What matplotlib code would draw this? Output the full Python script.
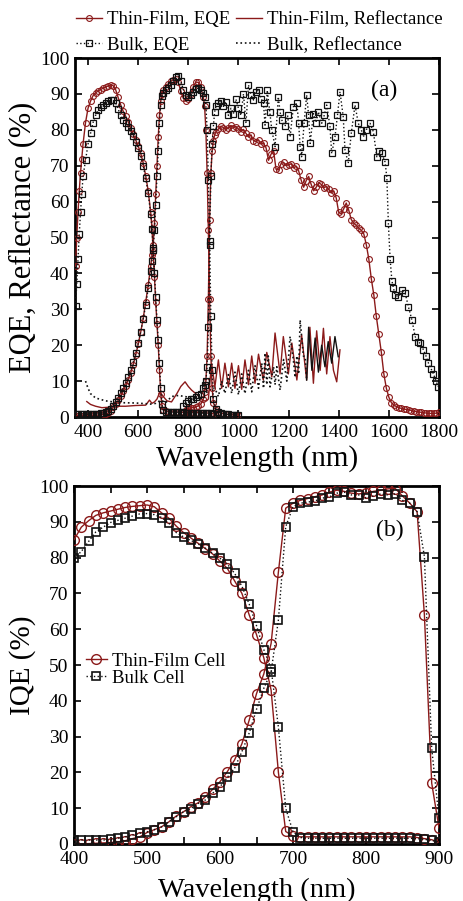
import matplotlib
matplotlib.use('Agg')
import matplotlib.pyplot as plt
from matplotlib.lines import Line2D

plt.rcParams['font.family'] = ['Liberation Serif', 'DejaVu Serif']

RED = '#8b1a1a'
BLK = '#111111'

# ---------------- Panel (a): EQE and reflectance ----------------
top_wl = [350, 355, 360, 365, 370, 375, 380] + list(range(390, 651, 10)) + \
         [655, 660, 665, 670, 675, 680, 685, 690, 695, 700] + list(range(710, 901, 10))
tf_top_eqe = [42, 50, 57, 63, 68, 72, 76,
              82, 86, 88, 89.5, 90.3, 90.8, 91.2, 91.6, 91.9, 92.2, 92.5, 92.3, 91.2, 89, 87,
              85.2, 83.8, 82.3, 80.5, 78.8, 77.2, 75.5, 73.5, 70.8, 67.2, 63, 57,
              52.5, 46, 39, 32, 26, 20, 13, 6.5, 3, 2,
              1.6, 1.5, 1.5, 1.4, 1.4, 1.4, 1.3, 1.3, 1.3, 1.3, 1.3, 1.2, 1.2, 1.2, 1.2, 1.2,
              1.1, 1.1, 1.0, 0.9]
bk_top_eqe = [31, 37, 44, 51, 57, 62, 67,
              71.5, 76, 79, 82, 84, 85.5, 86.3, 87, 87.6, 88, 88.3, 88.3, 87.5, 85.8, 84,
              82.8, 81.8, 80.8, 79.7, 78.3, 76.7, 74.8, 72.6, 70, 66.5, 62.3, 56.5,
              52.5, 46.5, 40, 33.5, 27, 21.5, 15, 8, 3.5, 2,
              1.5, 1.4, 1.4, 1.3, 1.3, 1.3, 1.3, 1.2, 1.2, 1.2, 1.2, 1.2, 1.2, 1.1, 1.1, 1.1,
              1.1, 1.0, 1.0, 0.8]

mid_wl = list(range(350, 651, 10)) + [655, 660, 665, 670, 675, 680, 685, 690, 695, 700] + \
         list(range(710, 861, 10)) + [865, 870, 875, 880, 885, 890, 895, 900] + \
         list(range(910, 1001, 10))
tf_mid_eqe = [0.4, 0.4, 0.4, 0.4, 0.4, 0.4, 0.4, 0.5, 0.5, 0.5, 0.6, 0.7, 0.8, 1.0,
              1.8, 2.7, 3.6, 4.6, 5.8, 7.2, 8.7, 10.3, 12.2, 14.5, 17.2, 20.2, 23.6, 27.5,
              32, 36.8, 42,
              45, 48, 54, 62, 70, 78, 84, 88, 90, 91,
              92, 92.8, 93.5, 94, 94.2, 93.2, 90.8, 88.8, 88, 88.5, 90, 92, 93.3, 93.2,
              91.8, 89,
              86.5, 80, 68, 52, 33, 17, 8, 4,
              2, 1.4, 1.1, 0.9, 0.8, 0.7, 0.6, 0.6, 0.5, 0.5]
bk_mid_eqe = [0.8, 0.8, 0.8, 0.8, 0.8, 0.8, 0.8, 0.8, 0.9, 0.9, 1.0, 1.1, 1.3, 1.6,
              2.3, 3.2, 4.2, 5.3, 6.6, 8, 9.5, 11.2, 13, 15.2, 17.8, 20.6, 23.8, 27.2,
              31.2, 35.8, 40.6,
              43.5, 47, 52, 59, 67, 74, 82, 87, 89.5, 90.3,
              91, 91.6, 92.5, 93.6, 94.6, 95, 93.6, 91.2, 89.6, 89.2, 89.6, 90.6, 91.5,
              91.6, 91.2, 90.3,
              89.2, 87, 80, 66, 49, 28, 13, 5,
              2.2, 1.3, 1.0, 0.9, 0.8, 0.7, 0.6, 0.6, 0.5, 0.5]

tf_bot_wl = list(range(780, 861, 10)) + [865, 870, 875, 880, 885, 890, 895, 900, 905, 910] + \
            list(range(920, 1801, 10))
tf_bot_eqe = [1.5, 2, 2.4, 2.6, 2.6, 2.8, 3.1, 3.6, 5,
              7, 10, 17, 33, 55, 68, 74, 77, 78.5, 79.5,
              80.2, 81, 80.6, 80, 80.6, 81.2, 80.6, 80.9, 80.2,
              79.5, 80.1, 79, 78, 78.6, 77, 76.7, 77.2, 76, 76.2,
              75, 71.5, 73.2, 74.2, 69, 68.8, 70.6, 70.9, 70, 70.3,
              70.5, 69.4, 69.8, 68.6, 66, 64, 65.8, 67, 64.8, 63,
              64, 65.3, 64.8, 63.8, 64.2, 63.5, 62.4, 63, 61, 57,
              56.6, 58, 59.6, 57.6, 55, 54, 53.4, 52.6, 52, 51,
              48, 44, 38.5, 34, 28, 23, 18, 12, 8, 5.5,
              4, 3.3, 2.9, 2.6, 2.4, 2.2, 2.1, 2, 1.8, 1.6,
              1.5, 1.4, 1.3, 1.2, 1.1, 1, 1, 1, 1.1, 1.3]

bk_bot_wl = [780, 790, 800, 810, 820, 830, 840, 850, 860,
             865, 870, 875, 880, 885, 890, 895, 900, 905, 910,
             920, 930, 940, 950, 960, 970, 980, 990, 1000,
             1010, 1020, 1030, 1040, 1050, 1060, 1070, 1080, 1090, 1100,
             1106, 1115, 1125, 1133, 1146, 1159, 1166, 1173, 1186, 1196,
             1206, 1219, 1233, 1240, 1246, 1252, 1262, 1272, 1280, 1286,
             1299, 1309, 1319, 1332, 1342, 1352, 1365, 1372, 1385, 1395,
             1405, 1418, 1425, 1438, 1450, 1465, 1478, 1490, 1498, 1510,
             1525, 1538, 1552, 1562, 1572, 1585, 1592, 1598, 1605, 1612,
             1618, 1625, 1638, 1652, 1665, 1678, 1692, 1705, 1715, 1725,
             1738, 1748, 1758, 1768, 1778, 1788, 1798]
bk_bot_eqe = [3, 4, 4.5, 5, 5, 5.5, 6, 6.5, 8,
              9, 10, 14, 25, 48, 67, 76, 81, 85, 86.5,
              87.5, 88, 86.5, 87.8, 84, 86, 84.5, 88.5, 86,
              84, 90, 81.8, 92.5, 89.7, 88.3, 90.6, 91, 88.7, 87.4,
              81.3, 91, 85, 80, 75.3, 89.2, 85, 82.7, 81, 84,
              78, 86.4, 87.4, 82, 75.3, 72.5, 82, 89.7, 84, 76.2,
              84.5, 82, 85, 81.8, 84, 86.9, 81, 73.4, 78, 84,
              90.6, 83.6, 74.4, 70.7, 79, 86.9, 81.8, 80, 78, 80,
              81.8, 79.5, 72.5, 74, 73.4, 71, 66.6, 54, 44, 38,
              36, 34, 33.5, 35.4, 34.5, 30.7, 27, 22.4, 21, 20.5,
              18.7, 17, 15, 13.5, 12, 10, 8.4]

tf_refl_wl = [395, 410, 430, 455, 480, 510, 550, 590, 630, 645, 655, 665, 675, 687, 700,
              715, 733, 755, 770, 787, 800, 813, 830, 847, 860, 873, 880,
              893, 906, 920, 933, 946, 960, 973, 986, 1000, 1013, 1026, 1040, 1053, 1066,
              1080, 1099, 1113, 1133, 1146, 1166, 1179, 1199, 1213, 1233, 1252, 1272,
              1285, 1299, 1312, 1326, 1339, 1352, 1365, 1379, 1392, 1405]
tf_refl = [4.3, 3.5, 3, 2.6, 2.7, 3, 3, 3.2, 3.3, 4.7, 3.8, 4.2, 5, 7, 5.7,
           4.5, 4.2, 6.6, 8.5, 9.8, 8.5, 7.5, 6.5, 5.5, 4.5, 4.5, 5,
           15, 8.4, 15.9, 8, 15, 8.4, 15, 8, 14.3, 7.7, 15.9, 9, 17, 9.4,
           17.5, 10.3, 18, 11.2, 23.4, 12, 22.4, 12, 20.6, 10.3, 22.8, 10.3,
           25, 9.4, 24, 13, 24.7, 12, 22.4, 13, 9.8, 18.7]

bk_refl_wl = [390, 400, 410, 430, 470, 520, 590, 650, 670, 690, 710, 733, 760, 787, 813,
              853, 880, 893, 906, 920, 933, 946, 960, 973, 986, 1000, 1013, 1026, 1040,
              1053, 1066, 1080, 1093, 1100, 1106, 1113, 1119, 1126, 1140, 1146, 1153,
              1166, 1180, 1193, 1206, 1219, 1226, 1233, 1240, 1246, 1259, 1266, 1272,
              1280, 1293, 1306, 1319, 1332, 1345, 1358, 1372, 1385, 1398]
bk_refl = [10, 8, 6.5, 5.3, 4.5, 4, 3.9, 3.6, 3.8, 4.7, 4, 5.7, 6, 5.7, 5.3,
           6.6, 7, 8, 8, 5.7, 10, 6.6, 11.8, 6.6, 12.5, 6.2, 12, 6.5, 13,
           7, 14.3, 8, 15, 8, 17.8, 9, 17, 8.4, 14, 9, 14,
           7.5, 16, 10, 22.4, 16, 11, 17, 12, 27, 17, 16.8, 10.3,
           25, 13, 22, 12.5, 20, 14, 21, 15, 22.4, 16.8]
solid_from = 1272  # bulk reflectance drawn solid beyond this wavelength

# ---------------- Panel (b): IQE ----------------
iqe_wl = list(range(400, 901, 10))
tf_top_iqe = [85, 88.5, 90.3, 91.8, 92.5, 93, 93.5, 94, 94.3, 94.5,
              94.7, 94.2, 92.5, 91, 88.8, 87, 85.5, 84, 82.5, 81,
              79, 77, 73.5, 70, 64, 58.5, 52, 43, 20, 3.5,
              2.2, 2, 2, 2, 2, 2, 2, 2, 2, 2,
              2, 2, 2, 2, 2, 2, 2, 1.8, 1.5, 1.2,
              0.5]
bk_top_iqe = [79.8, 81.7, 84.5, 87.2, 88.5, 89.8, 90.4, 91, 91.6, 92.2,
              92.3, 92, 91.2, 89.6, 87, 85.8, 84.8, 83.8, 82.6, 81.2,
              79.8, 78.2, 75.6, 72, 67, 61, 54.3, 49, 32.6, 10,
              3.4, 1.8, 1.6, 1.6, 1.6, 1.6, 1.6, 1.6, 1.6, 1.6,
              1.6, 1.6, 1.6, 1.6, 1.6, 1.6, 1.6, 1.5, 1.3, 1,
              0.5]
tf_mid_iqe = [0, 0, 0.1, 0.2, 0.3, 0.4, 0.6, 0.9, 1.5, 2,
              3.2, 4, 4.8, 6.2, 7.8, 9, 10.4, 11.5, 13.2, 15.3,
              17.4, 20.2, 23.5, 28, 34.6, 42, 47.5, 56, 76, 93.8,
              95.2, 96, 96.5, 97, 97.5, 98.3, 98.8, 98.5, 98, 97.8,
              98, 98.5, 98.8, 99.2, 99.3, 97.2, 95.2, 92.8, 64, 17,
              4.5]
bk_mid_iqe = [1.1, 1.1, 1.1, 1.1, 1.1, 1.3, 1.6, 2, 2.5, 3,
              3.4, 4, 4.8, 6.2, 7.6, 9, 9.9, 11.3, 12.3, 14.2,
              16, 18.6, 21.2, 25.8, 31, 37.6, 43.5, 48, 62.6, 88.6,
              94.2, 95.2, 95.5, 95.8, 96.6, 97, 98, 98.3, 97.5, 97.5,
              96.7, 97.2, 97.8, 97.5, 97.8, 96, 95.2, 92.8, 80.3, 26.7,
              7.2]

# ---------------- Figure ----------------
fig = plt.figure(figsize=(4.64, 9.01), dpi=100)
axA = fig.add_axes([75 / 464, 1 - 417 / 901, 364 / 464, 359 / 901])
axB = fig.add_axes([74 / 464, 1 - 844 / 901, 365 / 464, 358 / 901])

ms_a = 4.2
tf_style_a = dict(color=RED, lw=1.0, ls='-', marker='o', ms=ms_a, mfc='none', mec=RED, mew=0.8)
bk_style_a = dict(color=BLK, lw=1.0, ls=':', marker='s', ms=ms_a, mfc='none', mec=BLK, mew=0.9)

# reflectance
axA.plot(tf_refl_wl, tf_refl, color=RED, lw=1.0, ls='-', zorder=2)
bw_d = [w for w in bk_refl_wl if w <= solid_from]
bv_d = bk_refl[:len(bw_d)]
axA.plot(bw_d, bv_d, color=BLK, lw=1.2, ls=':', zorder=2)
axA.plot(bk_refl_wl[len(bw_d) - 1:], bk_refl[len(bw_d) - 1:], color=BLK, lw=1.0, ls='-', zorder=2)

# EQE
for wl, v in [(top_wl, tf_top_eqe), (mid_wl, tf_mid_eqe), (tf_bot_wl, tf_bot_eqe)]:
    axA.plot(wl, v, zorder=3, **tf_style_a)
for wl, v in [(top_wl, bk_top_eqe), (mid_wl, bk_mid_eqe), (bk_bot_wl, bk_bot_eqe)]:
    axA.plot(wl, v, zorder=4, **bk_style_a)

axA.set_xlim(348, 1800)
axA.set_ylim(0, 100)
axA.set_xticks(range(400, 1801, 200))
axA.set_yticks(range(0, 101, 10))
axA.set_xlabel('Wavelength (nm)', fontsize=21, labelpad=3)
axA.set_ylabel('EQE, Reflectance (%)', fontsize=22, labelpad=2)
axA.text(0.849, 0.91, '(a)', transform=axA.transAxes, fontsize=17, ha='center', va='center')

handles = [
    Line2D([], [], **tf_style_a),
    Line2D([], [], **bk_style_a),
    Line2D([], [], color=RED, lw=1.0, ls='-'),
    Line2D([], [], color=BLK, lw=1.2, ls=':'),
]
labels = ['Thin-Film, EQE', 'Bulk, EQE', 'Thin-Film, Reflectance', 'Bulk, Reflectance']
fig.legend(handles, labels, ncol=2, loc='upper left', bbox_to_anchor=(76 / 464, 1 - 11 / 901),
           frameon=False, fontsize=13.5, handlelength=1.4, handletextpad=0.25,
           columnspacing=0.3, labelspacing=0.45, borderaxespad=0, borderpad=0)

# Panel (b)
ms_b = 7.0
tf_style_b = dict(color=RED, lw=1.0, ls='-', marker='o', ms=ms_b, mfc='none', mec=RED, mew=1.0)
bk_style_b = dict(color=BLK, lw=1.0, ls=':', marker='s', ms=6.0, mfc='none', mec=BLK, mew=1.2)
axB.plot(iqe_wl, tf_top_iqe, zorder=3, label='Thin-Film Cell', **tf_style_b)
axB.plot(iqe_wl, tf_mid_iqe, zorder=3, **tf_style_b)
axB.plot(iqe_wl, bk_top_iqe, zorder=4, label='Bulk Cell', **bk_style_b)
axB.plot(iqe_wl, bk_mid_iqe, zorder=4, **bk_style_b)
axB.set_xlim(400, 900)
axB.set_ylim(0, 100)
axB.set_xticks(range(400, 901, 100))
axB.set_xticks(range(450, 901, 100), minor=True)
axB.set_yticks(range(0, 101, 10))
axB.set_xlabel('Wavelength (nm)', fontsize=20.5, labelpad=7)
axB.set_ylabel('IQE (%)', fontsize=21, labelpad=2)
axB.text(0.866, 0.877, '(b)', transform=axB.transAxes, fontsize=17, ha='center', va='center')
axB.legend(loc='upper left', bbox_to_anchor=(12 / 365, 0.535), frameon=False, fontsize=13.5,
           handlelength=1.1, handletextpad=0.3, labelspacing=0.0, borderaxespad=0, borderpad=0)

for ax in (axA, axB):
    for s in ax.spines.values():
        s.set_linewidth(2.0)
    ax.tick_params(which='both', direction='in', top=True, right=True, labelsize=14,
                   length=5, width=1.2, pad=4)
    ax.tick_params(axis='x', pad=5)

fig.savefig('out.png', dpi=100)
